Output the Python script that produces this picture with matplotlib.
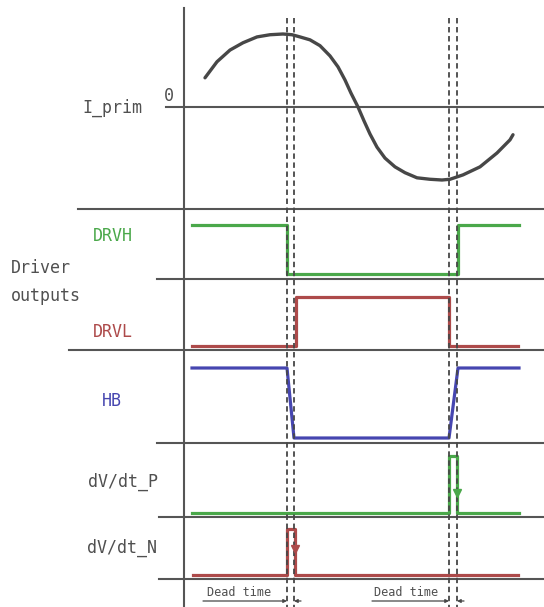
import matplotlib.pyplot as plt

# time axis in arbitrary units, 0 = vertical axis of the diagram
t_dead = [103, 110, 265, 273]   # dashed dead-time markers

# primary current (normalised)
i_t = [21, 33, 46, 59, 73, 86, 99, 108, 116, 126, 136, 146, 154, 161, 167,
       174, 180, 186, 193, 201, 211, 221, 233, 246, 258, 266, 279, 296, 313,
       326, 329]
i_v = [0.40, 0.62, 0.78, 0.88, 0.96, 0.99, 1.00, 0.99, 0.96, 0.92, 0.84, 0.70,
       0.55, 0.37, 0.19, 0.0, -0.19, -0.37, -0.55, -0.70, -0.82, -0.90, -0.97,
       -0.99, -1.00, -0.99, -0.93, -0.82, -0.63, -0.45, -0.38]

# logic waveforms (0 = low, 1 = high)
drvh_t = [8, 103, 103, 274, 274, 335]
drvh_v = [1, 1, 0, 0, 1, 1]
drvl_t = [8, 112, 112, 265, 265, 334]
drvl_v = [0, 0, 1, 1, 0, 0]
hb_t = [8, 103, 110, 265, 274, 335]
hb_v = [1, 1, 0, 0, 1, 1]
dvp_t = [8, 265, 265, 273, 273, 335]
dvp_v = [0, 0, 1, 1, 0, 0]
dvn_t = [9, 103, 103, 111, 111, 334]
dvn_v = [0, 0, 1, 1, 0, 0]

green = '#4aa84a'
red = '#ad4a4a'
blue = '#4646b0'
gray = '#474747'
txt = '#505050'
font = 'DejaVu Sans Mono'

fig = plt.figure(figsize=(5.44, 6.07), dpi=100)
ax = fig.add_axes([0, 0, 1, 1])
ax.set_xlim(-184, 360)
ax.set_ylim(607, 0)
ax.axis('off')

# rows: (y of low level, y of high level)
rows = {
    'drvh': (274, 225),
    'drvl': (346, 297),
    'hb': (438, 368),
    'dvp': (513, 456),
    'dvn': (575, 529),
}

def level(row, vals):
    lo, hi = rows[row]
    return [lo + v * (hi - lo) for v in vals]

# frame
ax.plot([0, 0], [8, 607], color='#555555', lw=1.5)
for y, x0 in [(107, -18), (209, -106), (279, -27), (350, -115),
              (443, -27), (517, -25), (579, -25)]:
    ax.plot([x0, 360], [y, y], color='#555555', lw=1.5)

# dead time markers
for t in t_dead:
    ax.plot([t, t], [18, 607], color=gray, lw=1.3, dashes=(3, 2), zorder=5)

# current
zero, amp = 107, 73
ax.plot(i_t, [zero - v * amp for v in i_v], color=gray, lw=2.4,
        solid_capstyle='round', solid_joinstyle='round')

ax.plot(drvh_t, level('drvh', drvh_v), color=green, lw=2.3)
ax.plot(drvl_t, level('drvl', drvl_v), color=red, lw=2.3)
ax.plot(hb_t, level('hb', hb_v), color=blue, lw=2.3)
ax.plot(dvp_t, level('dvp', dvp_v), color=green, lw=2.3)
ax.plot(dvn_t, level('dvn', dvn_v), color=red, lw=2.3)

# small arrows on the dV/dt pulses
ax.plot([273], level('dvp', [0.35]), marker='v', color=green, ms=6, zorder=6)
ax.plot([111], level('dvn', [0.57]), marker='v', color=red, ms=6, zorder=6)

# labels
kw = dict(family=font, fontsize=12, va='center', ha='left')
ax.text(-102, 108, 'I_prim', color=txt, **kw)
ax.text(-20, 96, '0', color=txt, **kw)
ax.text(-91, 236, 'DRVH', color=green, **kw)
ax.text(-173, 268, 'Driver', color=txt, **kw)
ax.text(-173, 296, 'outputs', color=txt, **kw)
ax.text(-91, 332, 'DRVL', color=red, **kw)
ax.text(-82, 401, 'HB', color=blue, **kw)
ax.text(-96, 482, 'dV/dt_P', color=txt, **kw)
ax.text(-97, 548, 'dV/dt_N', color=txt, **kw)

# dead time annotations
for x_txt, x_from, t_a, t_b in [(23, 19, 103, 110), (190, 188, 265, 273)]:
    ax.text(x_txt, 592, 'Dead time', family=font, fontsize=8.5, color=txt,
            va='center', ha='left')
    ax.annotate('', xy=(t_a, 601), xytext=(x_from, 601),
                arrowprops=dict(arrowstyle='-|>', lw=0.9, color=gray,
                                mutation_scale=5, shrinkA=0, shrinkB=0))
    ax.annotate('', xy=(t_b, 601), xytext=(t_b + 7, 601),
                arrowprops=dict(arrowstyle='-|>', lw=0.9, color=gray,
                                mutation_scale=5, shrinkA=0, shrinkB=0))

fig.savefig('out.png', dpi=100)
